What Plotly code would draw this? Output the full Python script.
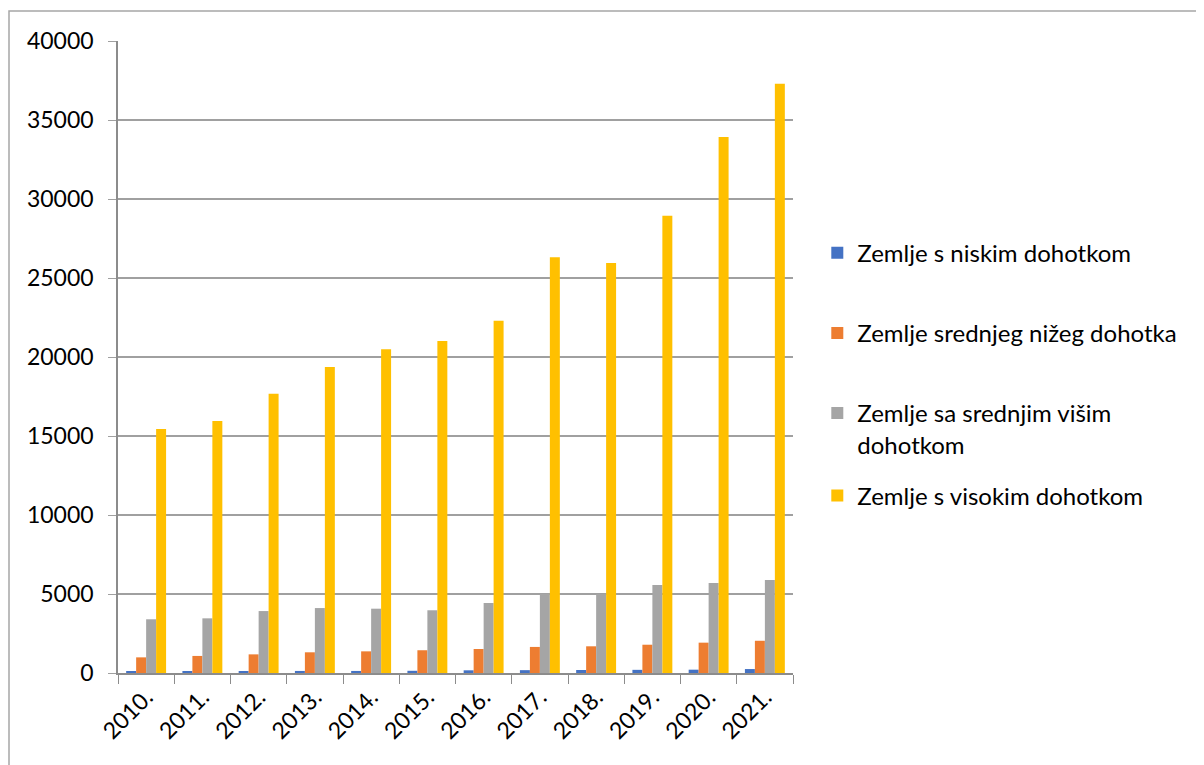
import plotly.graph_objects as go

# --- podaci ---
godine = ['2010.', '2011.', '2012.', '2013.', '2014.', '2015.',
          '2016.', '2017.', '2018.', '2019.', '2020.', '2021.']

nizak = [80, 90, 120, 130, 130, 140, 170, 180, 190, 200, 210, 250]
srednji_nizi = [990, 1080, 1180, 1310, 1370, 1440, 1520, 1650, 1690, 1790, 1920, 2040]
srednji_visi = [3400, 3460, 3920, 4110, 4070, 3970, 4430, 5020, 4990, 5570, 5700, 5890]
visok = [15450, 15950, 17680, 19370, 20490, 21010, 22300, 26310, 25950, 28940, 33920, 37300]

nazivi = ['Zemlje s niskim dohotkom',
          'Zemlje srednjeg nižeg dohotka',
          'Zemlje sa srednjim višim<br>dohotkom',
          'Zemlje s visokim dohotkom']
boje = ['#4472C4', '#ED7D31', '#A5A5A5', '#FFC000']
legende = ['legend', 'legend', 'legend', 'legend2']

FONT = 'Lato, Carlito, sans-serif'

fig = go.Figure()
for i, (serija, naziv, boja) in enumerate(zip([nizak, srednji_nizi, srednji_visi, visok], nazivi, boje)):
    fig.add_trace(go.Bar(x=godine, y=serija, name=naziv, legendgroup=str(i), legend=legende[i],
                         marker=dict(color=boja, line=dict(width=0))))

# stranica ima 8px margine (body), pa su koordinate pomaknute
W, H = 1204, 765
L, R, T, B = 110, 419, 33, 100
pw, ph = W - L - R, H - T - B

# okvir oko cijelog grafikona
fig.add_shape(type='rect', xref='paper', yref='paper',
              x0=(1 - L) / pw, x1=(1210 - L) / pw,
              y0=(H - B - 770) / ph, y1=(H - B - 3) / ph,
              line=dict(color='#A6A6A6', width=1.5), fillcolor='rgba(0,0,0,0)')

leg = dict(xanchor='left', yanchor='top', valign='top', font=dict(family=FONT, size=24),
           itemwidth=30, bgcolor='rgba(0,0,0,0)')

fig.update_layout(
    width=W, height=H,
    margin=dict(l=L, r=R, t=T, b=B),
    barmode='group', bargap=0.29, bargroupgap=0,
    plot_bgcolor='white', paper_bgcolor='white',
    font=dict(family=FONT, size=22, color='black'),
    legend=dict(x=1.036, y=0.70, tracegroupgap=46, **leg),
    legend2=dict(x=1.036, y=0.316, **leg),
    showlegend=True,
)
fig.update_xaxes(tickangle=-45, showline=True, linecolor='#8C8C8C', linewidth=1.5,
                 ticks='outside', tickson='boundaries', ticklen=9, tickcolor='#8C8C8C',
                 tickfont=dict(family=FONT, size=23))
fig.update_yaxes(range=[0, 40000], dtick=5000, tickformat='d',
                 showgrid=True, gridcolor='#A0A0A0', gridwidth=1.5,
                 showline=True, linecolor='#8C8C8C', linewidth=1.5,
                 ticks='outside', ticklen=8, tickcolor='#A0A0A0',
                 tickfont=dict(family=FONT, size=23),
                 zeroline=False, ticklabelstandoff=10)

fig.write_html('out.html')
